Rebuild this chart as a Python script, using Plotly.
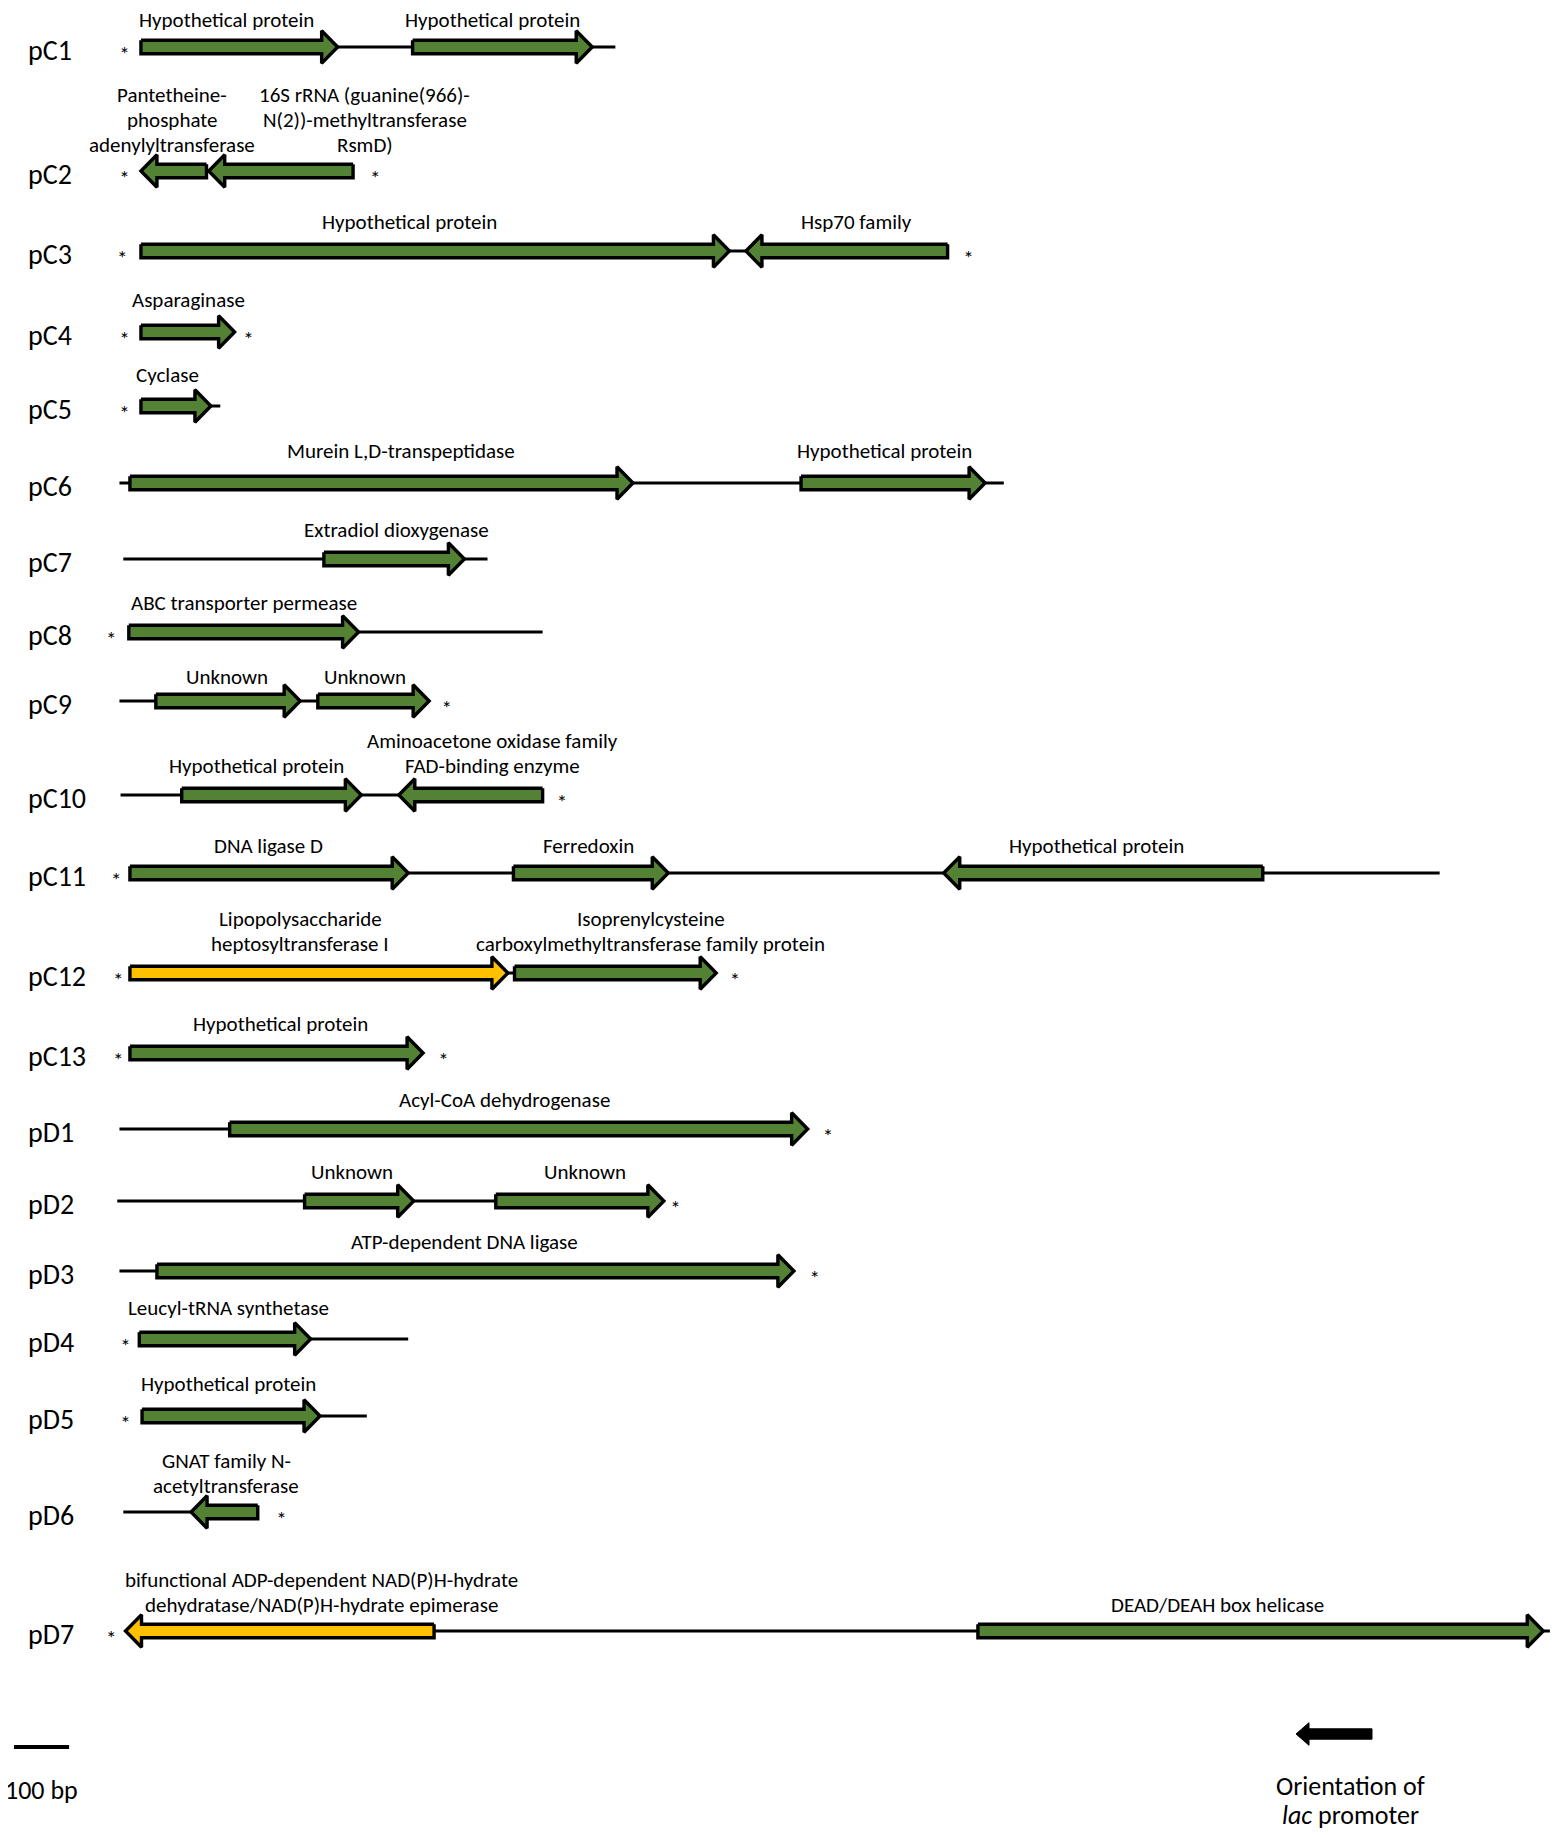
import plotly.graph_objects as go

# ---- data: insert maps, coordinates in bp from the left end of each insert ----
plasmids = ["pC1", "pC2", "pC3", "pC4", "pC5", "pC6", "pC7", "pC8", "pC9", "pC10",
            "pC11", "pC12", "pC13", "pD1", "pD2", "pD3", "pD4", "pD5", "pD6", "pD7"]
backbone_start = [43, 43, 43, 43, 43, 4, 11, 21, 4, 6, 23, 23, 23, 4, 0, 4, 40, 45, 11, 15]
backbone_end = [904, 428, 1507, 213, 187, 1609, 672, 772, 566, 772,
                2400, 1087, 555, 1253, 992, 1228, 528, 453, 255, 2600]

gene_plasmid = ["pC1", "pC1", "pC2", "pC2", "pC3", "pC3", "pC4", "pC5", "pC6", "pC6",
                "pC7", "pC8", "pC9", "pC9", "pC10", "pC10", "pC11", "pC11", "pC11",
                "pC12", "pC12", "pC13", "pD1", "pD2", "pD2", "pD3", "pD4", "pD5", "pD6",
                "pD7", "pD7"]
gene_start = [43, 536, 43, 166, 43, 1141, 43, 43, 23, 1241,
              375, 21, 70, 364, 117, 511, 23, 719, 1500,
              23, 721, 23, 204, 340, 687, 72, 40, 45, 134,
              15, 1562]
gene_end = [400, 862, 162, 428, 1111, 1507, 213, 170, 936, 1575,
            630, 438, 332, 566, 443, 772, 528, 1000, 2079,
            709, 1087, 555, 1253, 538, 992, 1228, 351, 368, 255,
            575, 2588]
gene_strand = [1, 1, -1, -1, 1, -1, 1, 1, 1, 1,
               1, 1, 1, 1, 1, -1, 1, 1, -1,
               1, 1, 1, 1, 1, 1, 1, 1, 1, -1,
               -1, 1]
gene_highlight = [0, 0, 0, 0, 0, 0, 0, 0, 0, 0,
                  0, 0, 0, 0, 0, 0, 0, 0, 0,
                  1, 0, 0, 0, 0, 0, 0, 0, 0, 0,
                  1, 0]
gene_name = [
    "Hypothetical protein", "Hypothetical protein",
    "Pantetheine-<br>phosphate<br>adenylyltransferase",
    "16S rRNA (guanine(966)-<br>N(2))-methyltransferase<br>RsmD)",
    "Hypothetical protein", "Hsp70 family",
    "Asparaginase", "Cyclase",
    "Murein L,D-transpeptidase", "Hypothetical protein",
    "Extradiol dioxygenase", "ABC transporter permease",
    "Unknown", "Unknown",
    "Hypothetical protein", "Aminoacetone oxidase family<br>FAD-binding enzyme",
    "DNA ligase D", "Ferredoxin", "Hypothetical protein",
    "Lipopolysaccharide<br>heptosyltransferase I",
    "Isoprenylcysteine<br>carboxylmethyltransferase family protein",
    "Hypothetical protein", "Acyl-CoA dehydrogenase",
    "Unknown", "Unknown", "ATP-dependent DNA ligase",
    "Leucyl-tRNA synthetase", "Hypothetical protein",
    "GNAT family N-<br>acetyltransferase",
    "bifunctional ADP-dependent NAD(P)H-hydrate<br>dehydratase/NAD(P)H-hydrate epimerase",
    "DEAD/DEAH box helicase",
]

# vector junctions marked with an asterisk
asterisk_plasmid = ["pC1", "pC2", "pC2", "pC3", "pC3", "pC4", "pC4", "pC5", "pC8", "pC9",
                    "pC10", "pC11", "pC12", "pC12", "pC13", "pC13", "pD1", "pD2", "pD3",
                    "pD4", "pD5", "pD6", "pD7"]
asterisk_pos = [13, 13, 468, 9, 1545, 13, 238, 13, -11, 598,
                807, -2, 2, 1121, 2, 592, 1290, 1013, 1266,
                15, 15, 298, -11]

scale_bar_bp = 100

# ---- layout (positions in reference pixels) ----
W, H = 1559, 1835
PAGE_OFF = 8               # default body margin of the html page
PX_PER_BP = 0.551
X_ORIGIN = 117.25          # pixel position of bp 0
ROW_Y = [47, 171, 251, 332, 406, 483, 559, 632, 701, 795,
         873, 973, 1053, 1129, 1201, 1271, 1339, 1416, 1512, 1631]
ROW_LABEL_DY = [2, 3, 0, -3, -2, -3, 0, 0, 5, 0,
                2, 0, 0, 0, 0, 0, -2, -3, 3, 3]
LABEL_X = [198, 681, 100, 449, 530, 1341, 130, 92, 515, 1392,
           506, 230, 200, 449, 253, 681, 275, 855, 1777,
           332, 968, 296, 702, 426, 849, 630, 202, 202, 198,
           370, 1996]
LINE_H = 25

GREEN = "#548235"
YELLOW = "#FFC000"
FONT = "Carlito, Calibri, Lato, sans-serif"

BODY = 6.8     # half height of gene body, px
HEAD = 16.3    # half height of arrow head, px
HEAD_LEN = 16 / PX_PER_BP


def bp(px):
    return (px - X_ORIGIN) / PX_PER_BP


def arrow(s, e, y, strand, body=BODY, head=HEAD, head_len=HEAD_LEN):
    hl = min(head_len, (e - s) * 0.8)
    if strand > 0:
        xs = [s, e - hl, e - hl, e, e - hl, e - hl, s, s]
    else:
        xs = [e, s + hl, s + hl, s, s + hl, s + hl, e, e]
    ys = [y - body, y - body, y - head, y, y + head, y + body, y + body, y - body]
    return xs, ys


row_of = {p: i for i, p in enumerate(plasmids)}
fig = go.Figure()

# backbone lines
for p, s, e in zip(plasmids, backbone_start, backbone_end):
    y = ROW_Y[row_of[p]]
    fig.add_trace(go.Scatter(x=[s, e], y=[y, y], mode="lines",
                             line=dict(color="black", width=3), hoverinfo="skip"))

# genes
for p, s, e, st, hi, name in zip(gene_plasmid, gene_start, gene_end, gene_strand,
                                 gene_highlight, gene_name):
    xs, ys = arrow(s, e, ROW_Y[row_of[p]], st)
    fig.add_trace(go.Scatter(x=xs, y=ys, mode="lines", fill="toself",
                             fillcolor=YELLOW if hi else GREEN,
                             line=dict(color="black", width=3.4),
                             name=name.replace("<br>", " "), hoverinfo="name"))

# asterisks
fig.add_trace(go.Scatter(x=asterisk_pos,
                         y=[ROW_Y[row_of[p]] + 9 for p in asterisk_plasmid],
                         mode="text", text=["*"] * len(asterisk_pos),
                         textfont=dict(family=FONT, size=21, color="black"),
                         hoverinfo="skip"))

# gene labels, one annotation per text line
for p, lx, name in zip(gene_plasmid, LABEL_X, gene_name):
    r = row_of[p]
    lines = name.split("<br>")
    for k, txt in enumerate(lines):
        y = ROW_Y[r] - 14 + ROW_LABEL_DY[r] - (len(lines) - 1 - k) * LINE_H
        fig.add_annotation(x=lx, y=y, text=txt, showarrow=False,
                           xanchor="center", yanchor="bottom",
                           font=dict(family=FONT, size=21, color="black"))

# row labels
for p in plasmids:
    fig.add_annotation(x=bp(26), y=ROW_Y[row_of[p]] + 3, text=p,
                       showarrow=False, xanchor="left", yanchor="middle",
                       font=dict(family=FONT, size=28, color="black"))

# scale bar
sb0 = bp(14)
fig.add_trace(go.Scatter(x=[sb0, sb0 + scale_bar_bp], y=[1747, 1747], mode="lines",
                         line=dict(color="black", width=4), hoverinfo="skip"))
fig.add_annotation(x=sb0 + scale_bar_bp / 2, y=1790, text=f"{scale_bar_bp} bp",
                   showarrow=False, xanchor="center", yanchor="middle",
                   font=dict(family=FONT, size=26, color="black"))

# lac promoter orientation
lx0, lx1 = bp(1296), bp(1372)
xs, ys = arrow(lx0, lx1, 1734, -1, body=5.2, head=11.3, head_len=13 / PX_PER_BP)
fig.add_trace(go.Scatter(x=xs, y=ys, mode="lines", fill="toself", fillcolor="black",
                         line=dict(color="black", width=1), hoverinfo="skip"))
for txt, y in [("Orientation of", 1786), ("<i>lac</i> promoter", 1815)]:
    fig.add_annotation(x=bp(1350), y=y, text=txt, showarrow=False,
                       xanchor="center", yanchor="middle",
                       font=dict(family=FONT, size=26, color="black"))

fig.update_layout(
    width=W - PAGE_OFF, height=H - PAGE_OFF,
    margin=dict(l=0, r=0, t=0, b=0),
    paper_bgcolor="white", plot_bgcolor="white",
    showlegend=False,
    xaxis=dict(range=[bp(PAGE_OFF), bp(W)], visible=False, fixedrange=True),
    yaxis=dict(range=[H, PAGE_OFF], visible=False, fixedrange=True),
)

fig.write_html("out.html")
